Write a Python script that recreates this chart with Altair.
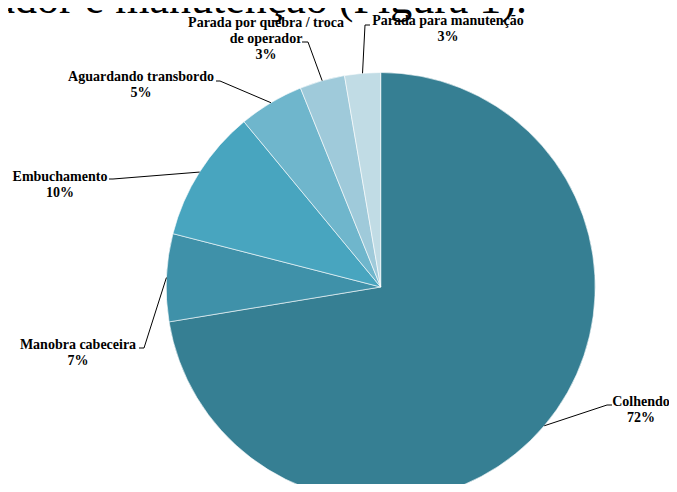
import math
import altair as alt
import pandas as pd

# ---- data ----
categories = ["Colhendo", "Manobra cabeceira", "Embuchamento",
              "Aguardando transbordo", "Parada por quebra / troca de operador",
              "Parada para manutenção"]
values = [72.4, 6.6, 10.0, 4.9, 3.4, 2.7]
label_lines = [["Colhendo"], ["Manobra cabeceira"], ["Embuchamento"],
               ["Aguardando transbordo"], ["Parada por quebra / troca", "de operador"],
               ["Parada para manutenção"]]
colors = ["#367f93", "#3f91a9", "#48a5bf", "#6fb6cc", "#9fcada", "#c1dce5"]
caption = "na troca de operador e manutenção (Figura 1)."

# ---- layout (page pixels, converted to chart pixels by -8) ----
W, H = 661, 476
OFF = 8
CX, CY, R = 380.7 - OFF, 287.0 - OFF, 214.5
elbows = [(607, 405), (144, 348), (113, 179), (220, 81), (308, 42), (365, 25)]
ends = [(612, 405), (139, 348), (109, 179), (216, 81), (302, 42), (370, 25)]
label_centre_x = [641, 78, 60, 141, 266, 448]
label_first_y = [402, 345, 177, 77, 23, 21]
LINE_H = 16

pie_df = pd.DataFrame({"category": categories, "value": values,
                       "idx": list(range(len(values)))})

total = sum(values)
rows_lines, rows_text = [], []
cum = 0.0
for i, (cat, v) in enumerate(zip(categories, values)):
    mid = (cum + v / 2) / total * 2 * math.pi
    cum += v
    sx = CX + R * math.sin(mid)
    sy = CY - R * math.cos(mid)
    pts = [(sx, sy), (elbows[i][0] - OFF, elbows[i][1] - OFF),
           (ends[i][0] - OFF, ends[i][1] - OFF)]
    for k, (px, py) in enumerate(pts):
        rows_lines.append({"cat": cat, "k": k, "x": px, "y": py})
    texts = label_lines[i] + [f"{round(v)}%"]
    for j, t in enumerate(texts):
        rows_text.append({"cat": cat, "t": t,
                          "x": label_centre_x[i] - OFF,
                          "y": label_first_y[i] - OFF + j * LINE_H})

lines_df = pd.DataFrame(rows_lines)
text_df = pd.DataFrame(rows_text)

pie = alt.Chart(pie_df).mark_arc(radius=R, stroke="white", strokeWidth=0.6).encode(
    theta=alt.Theta("value:Q", stack=True),
    color=alt.Color("category:N", scale=alt.Scale(domain=categories, range=colors),
                    legend=None),
    order=alt.Order("idx:Q"),
    x=alt.value(CX),
    y=alt.value(CY),
)

leaders = alt.Chart(lines_df).mark_line(color="black", strokeWidth=1).encode(
    x=alt.X("x:Q", scale=None, axis=None),
    y=alt.Y("y:Q", scale=None, axis=None),
    detail="cat:N",
    order="k:Q",
)

labels = alt.Chart(text_df).mark_text(
    font="Liberation Serif", fontWeight="bold", fontSize=14,
    align="center", baseline="middle", color="black"
).encode(
    x=alt.X("x:Q", scale=None, axis=None),
    y=alt.Y("y:Q", scale=None, axis=None),
    text="t:N",
)

cap = alt.Chart(pd.DataFrame({"t": [caption]})).mark_text(
    font="Liberation Serif", fontSize=44, align="right", baseline="alphabetic",
    color="black"
).encode(text="t:N", x=alt.value(527 - OFF), y=alt.value(13 - OFF))

chart = alt.layer(pie, leaders, labels, cap).properties(
    width=W, height=H, padding=0, autosize="none"
).configure_view(stroke=None)

chart.save("out.html", embed_options={"renderer": "svg", "actions": False})
